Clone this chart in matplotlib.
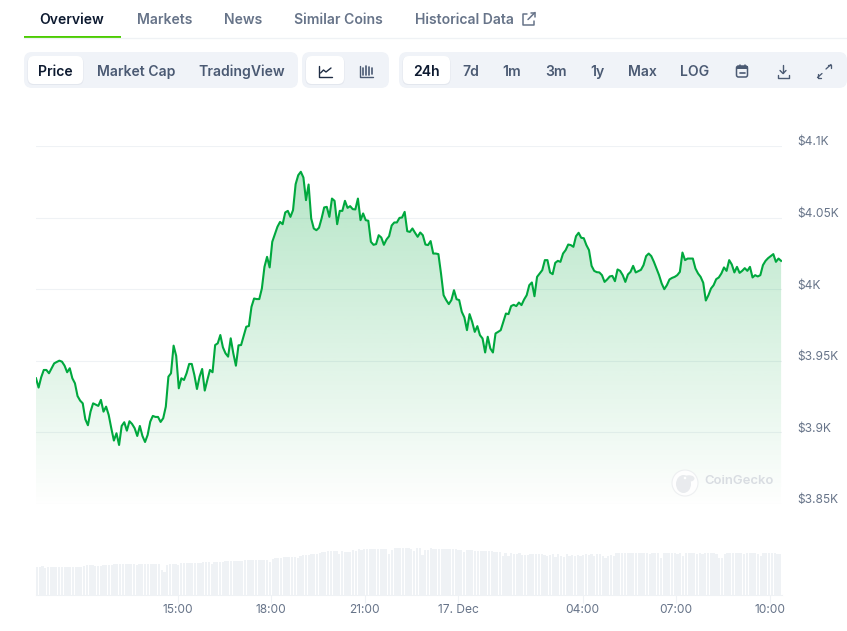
import numpy as np
import matplotlib
matplotlib.use("Agg")
import matplotlib.pyplot as plt
from matplotlib.patches import FancyBboxPatch, Circle, Ellipse, Rectangle
from matplotlib.transforms import ScaledTranslation

plt.rcParams['font.family'] = ['Inter', 'DejaVu Sans']

# ---- data ----
price = [
 3937.8,3931.3,3938.5,3943.6,3943.6,3941.3,3944.8,3948.2,3949.2,3950.1,3949.4,3946.6,3942.0,3944.8,3937.8,3934.3,3925.4,
 3922.2,3920.3,3909.2,3905.0,3914.5,3920.3,3919.4,3918.5,3922.7,3914.5,3918.0,3912.2,3902.9,3894.3,3899.4,3891.2,
 3904.5,3907.1,3901.2,3907.8,3905.9,3902.9,3897.5,3904.5,3897.5,3893.3,3898.2,3907.5,3911.5,3910.8,3910.8,3907.3,
 3909.9,3918.0,3938.9,3941.3,3960.6,3953.4,3930.8,3937.8,3936.6,3941.3,3947.8,3947.8,3940.1,3930.3,3938.9,3944.3,
 3929.2,3936.6,3943.6,3942.0,3961.0,3962.2,3968.0,3959.4,3955.2,3952.9,3965.7,3955.2,3946.6,3960.8,3961.0,3967.3,
 3973.8,3974.3,
 3987.7,3993.5,3993.1,3993.1,4000.5,4015.6,4022.6,4015.2,4033.1,4038.4,4043.6,4047.0,4045.4,4053.6,4054.7,4050.5,
 4055.2,4073.3,4079.6,4082.0,4078.0,4062.2,4073.1,4049.4,4042.4,4041.2,4042.9,4049.4,4057.1,4057.5,4050.5,4063.3,
 4061.7,4045.4,4054.7,4054.7,4061.7,4056.8,4058.0,4055.9,4055.7,4063.3,4048.2,4052.9,4048.2,4047.8,4033.1,4031.0,
 4031.5,4037.7,4036.1,4031.0,4034.7,4037.0,4044.5,4046.6,4046.6,4049.8,4050.1,4054.0,4040.5,4040.0,4042.4,4039.4,
 4036.6,4039.6,4037.7,4031.2,4030.8,4033.6,4024.9,4024.9,4024.5,
 4011.0,3995.8,3992.4,3989.6,3992.4,3999.3,3993.0,3992.4,3984.2,3980.3,3971.4,3982.6,3977.2,3970.2,3974.2,3967.9,
 3965.6,3955.8,3966.8,3958.6,3955.8,3969.1,3970.2,3971.4,3977.2,3983.0,3982.6,3988.2,3989.1,3988.2,3990.7,3988.9,
 3992.8,3995.8,4002.8,4004.7,3995.1,4008.6,4011.0,4013.3,4020.3,4020.3,4011.7,4010.5,4018.4,4019.8,4019.1,4024.9,
 4027.3,4031.2,4030.8,4029.6,4037.0,4039.4,4035.9,4035.6,4030.8,4027.3,4016.3,4012.8,4011.9,4011.7,4009.8,4005.1,
 4006.8,4008.9,4009.3,4005.6,4013.8,4012.8,4009.8,4005.1,4010.3,4012.1,4016.3,4011.7,4012.6,4013.5,4016.8,4023.1,
 4024.9,4023.1,4019.1,4014.5,4009.8,4004.0,4000.0,4002.8,4006.8,4007.9,4008.6,4009.8,4012.1,4025.6,4020.3,4021.4,
 4021.4,4021.4,4014.5,4011.0,4008.6,4004.5,3992.1,3995.8,4000.5,4002.8,4007.0,4008.2,4011.0,4015.2,4012.8,4020.3,
 4017.3,4011.7,4015.6,4011.4,4012.8,4014.7,4012.8,4015.6,4008.2,4009.8,4008.9,4009.8,4016.8,4019.8,4021.7,4023.1,
 4024.5,4019.1,4021.4,4019.8,
]
volume = [
 2.83,2.83,2.88,2.70,2.85,2.80,2.85,2.85,2.85,2.85,2.85,2.85,2.85,2.85,2.85,2.85,2.80,2.87,2.98,2.98,
 2.98,2.90,2.90,2.90,3.00,3.00,3.00,3.00,3.10,3.12,3.12,3.12,3.12,3.12,3.10,3.10,3.05,3.10,3.10,3.10,
 3.10,3.10,3.10,3.10,3.15,2.55,2.35,3.05,3.15,3.15,3.15,3.05,3.20,3.25,3.25,3.25,3.25,3.25,3.25,3.25,
 3.30,3.30,3.30,3.15,3.30,3.33,3.33,3.33,3.38,3.38,3.40,3.40,3.38,3.38,3.43,3.50,3.53,3.53,3.53,3.48,
 3.48,3.53,3.55,3.55,3.33,3.60,3.67,3.73,3.73,3.83,3.83,3.83,3.83,3.80,3.70,3.93,4.00,4.03,4.03,4.10,
 4.10,4.13,4.17,4.27,4.35,4.43,4.43,4.43,4.43,4.10,4.43,4.33,4.33,4.33,4.50,4.43,4.60,4.53,4.60,4.63,
 4.63,4.63,4.63,4.63,4.63,4.63,4.63,4.10,4.50,4.73,4.73,4.73,4.73,4.73,4.73,4.60,4.37,4.73,4.73,4.03,
 4.53,4.53,4.70,4.63,4.63,4.57,4.57,4.57,4.57,4.57,4.57,4.63,4.47,4.53,4.27,4.50,4.53,4.50,4.43,4.40,
 4.40,4.40,4.40,4.40,4.43,4.30,4.30,4.30,3.87,4.20,3.93,4.20,4.10,4.10,4.20,4.03,4.03,4.00,4.10,4.10,
 4.10,4.10,4.10,3.97,3.93,4.00,4.10,3.83,4.10,3.90,3.77,4.10,3.93,4.00,3.93,3.97,3.93,4.00,4.10,4.00,
 4.10,3.93,4.10,4.10,3.93,3.67,3.93,4.00,3.93,4.17,4.20,4.20,4.20,4.20,4.20,4.20,4.20,4.20,4.20,4.20,
 4.20,4.13,4.20,4.20,4.20,3.67,4.20,4.20,4.20,4.20,4.20,4.13,4.20,3.93,4.20,4.20,4.20,4.20,4.13,4.20,
 4.10,4.20,4.20,4.20,4.20,4.13,3.73,3.73,4.13,4.20,4.20,4.20,4.20,4.20,4.20,4.10,4.20,4.20,4.20,4.20,
 4.13,3.93,4.20,4.20,4.20,4.20,4.20,4.13,4.13,
]
y_ticks = [3850, 3900, 3950, 4000, 4050, 4100]
y_labels = ['$3.85K', '$3.9K', '$3.95K', '$4K', '$4.05K', '$4.1K']
x_ticks = [15, 18, 21, 24, 28, 31, 34]
x_labels = ['15:00', '18:00', '21:00', '17. Dec', '04:00', '07:00', '10:00']
tabs = ['Overview', 'Markets', 'News', 'Similar Coins', 'Historical Data']
views = ['Price', 'Market Cap', 'TradingView']
ranges = ['24h', '7d', '1m', '3m', '1y', 'Max', 'LOG']
t_start, t_end = 10.45, 34.37

W, H = 847, 631
fig = plt.figure(figsize=(W / 100, H / 100), dpi=100, facecolor='white')

def box(l, t, r, b):
    return [l / W, 1 - b / H, (r - l) / W, (b - t) / H]

PX = 31.15
GRID = '#eff2f5'
TXT = '#677489'

# ---- price panel ----
ax = fig.add_axes(box(36, 146, 782, 504))
ax.set_xlim(t_start, t_start + 746 / PX)
ax.set_ylim(3850, 4100)
hours = np.linspace(t_start, t_end, len(price))
ax.set_axisbelow(True)
for s in ax.spines.values():
    s.set_visible(False)
ax.set_xticks([])
ax.yaxis.tick_right()
ax.set_yticks(y_ticks, y_labels)
ax.tick_params(axis='y', length=0, pad=10.8, labelsize=8.64, labelcolor=TXT)
shift = ScaledTranslation(0, 5 / 100, fig.dpi_scale_trans)
for lab in ax.get_yticklabels():
    lab.set_transform(lab.get_transform() + shift)
ax.grid(axis='y', color=GRID, lw=0.8, zorder=0)

grad = np.zeros((256, 1, 4))
grad[..., 0] = 0 / 255
grad[..., 1] = 168 / 255
grad[..., 2] = 62 / 255
grad[..., 3] = np.linspace(0.29, 0.0, 256)[:, None] ** 1.0
poly = ax.fill_between(hours, price, 3850, color='none', lw=0)
im = ax.imshow(grad, extent=[t_start, t_end, 3845, 4085], origin='upper',
               aspect='auto', zorder=1)
path = poly.get_paths()[0]
im.set_clip_path(path, transform=ax.transData)
ax.set_xlim(t_start, t_start + 746 / PX)
ax.set_ylim(3850, 4100)
ax.plot(hours, price, color='#00a83e', lw=1.5, zorder=3, solid_joinstyle='round')

# ---- volume panel ----
vx = fig.add_axes(box(36, 540, 782, 595))
vx.set_xlim(t_start, t_start + 746 / PX)
vx.set_ylim(0, 5.5)
vhours = np.linspace(t_start + 0.03, t_end - 0.03, len(volume))
vx.bar(vhours, volume, width=0.072, color='#eff2f5', lw=0)
for s in ['top', 'left', 'right']:
    vx.spines[s].set_visible(False)
vx.spines['bottom'].set_color(GRID)
vx.spines['bottom'].set_linewidth(0.8)
vx.set_yticks([])
vx.set_xticks(x_ticks, x_labels)
vx.tick_params(axis='x', length=5.5, width=0.8, color=GRID, pad=1.0,
               labelsize=8.64, labelcolor=TXT)

# ---- page chrome ----
ui = fig.add_axes([0, 0, 1, 1], zorder=5)
ui.set_xlim(0, W)
ui.set_ylim(H, 0)
ui.axis('off')
ui.patch.set_alpha(0)

TAB = '#677489'
DARK = '#0d1a30'
BTN = '#4b5a73'
BG = '#f0f3f8'

tab_x = [39.5, 137, 224, 294, 415]
for i, (name, x) in enumerate(zip(tabs, tab_x)):
    ui.text(x, 19.8, name, ha='left', va='center', fontsize=10.08, fontweight='semibold',
            color=DARK if i == 0 else TAB)
ui.plot([24, 847], [37.5, 37.5], color=GRID, lw=0.9)
ui.add_patch(Rectangle((24, 36), 97, 2, color='#4bcc00', lw=0))


def rrect(l, t, r, b, color, rad=8, z=1):
    ui.add_patch(FancyBboxPatch((l, t), r - l, b - t,
                                boxstyle=f'round,pad=0,rounding_size={rad}',
                                fc=color, ec='none', zorder=z))


def button(l, r):
    rrect(l - 0.5, 56.5, r + 0.5, 85, '#e3e7ee', 6, 2)
    rrect(l, 56, r, 84, 'white', 6, 3)


rrect(24, 52, 298, 88, BG)
rrect(302, 52, 389, 88, BG)
rrect(399, 52, 847, 88, BG)
button(28, 83)
button(306, 344)
button(403, 450)

for name, x, c in zip(views, [55.5, 136, 241.5], [DARK, BTN, BTN]):
    ui.text(x, 71.8, name, ha='center', va='center', fontsize=10.08,
            fontweight='semibold', color=c, zorder=4)
for i, (name, x) in enumerate(zip(ranges, [426, 471, 512, 556, 597, 642.5, 695])):
    ui.text(x, 71.8, name, ha='center', va='center', fontsize=10.08,
            fontweight='semibold', color=DARK if i == 0 else BTN, zorder=4)


def pl(xs, ys, c=BTN, lw=1.0):
    ui.plot(xs, ys, color=c, lw=lw, zorder=4, solid_capstyle='round', solid_joinstyle='round')


# line-chart icon
pl([318.5, 318.5, 332], [65.5, 76.5, 76.5], '#1f2d44')
pl([320.5, 323.5, 326, 331], [73, 70, 72, 68], '#1f2d44')
# candles icon
pl([359.5, 359.5, 373], [65.5, 76.5, 76.5])
for x, a, b in [(362.5, 68, 74.5), (365.5, 65.5, 74.5), (368.5, 67, 74.5), (371.5, 68, 74)]:
    pl([x, x], [a, b], lw=1.2)
# external-link icon
pl([527, 523, 523, 534, 534], [14, 14, 25, 25, 20.5], TAB, 1.1)
pl([528, 535], [19.5, 12.5], TAB, 1.1)
pl([530.5, 535, 535], [12.5, 12.5, 17], TAB, 1.1)
# calendar icon
ui.add_patch(FancyBboxPatch((736.5, 66), 11, 11, boxstyle='round,pad=0,rounding_size=2',
                            fc='none', ec=BTN, lw=1.1, zorder=4))
ui.add_patch(Rectangle((736.5, 66), 11, 3, color=BTN, lw=0, zorder=4))
pl([739.5, 739.5], [64.5, 66.5], lw=1.1)
pl([744.5, 744.5], [64.5, 66.5], lw=1.1)
pl([739.5, 744.5], [72.5, 72.5], lw=1.2)
# download icon
pl([783, 783], [65, 73], lw=1.0)
pl([780, 783, 786], [70.5, 73.5, 70.5], lw=1.0)
pl([777.5, 777.5, 788.5, 788.5], [74.5, 77.5, 77.5, 74.5], lw=1.0)
# expand icon
pl([826, 831], [69, 64.5], lw=0.95)
pl([827.5, 831, 831], [64.5, 64.5, 68], lw=0.95)
pl([817.5, 817.5, 821], [74, 77.5, 77.5], lw=0.95)
pl([817.5, 822], [77.5, 73.5], lw=0.95)

# watermark
ui.add_patch(Circle((685, 483), 13, fc='#ffffff', ec='#eceef0', lw=0.8, alpha=0.9, zorder=2))
ui.add_patch(Ellipse((683.5, 484), 15, 18, fc='#e9ebee', ec='none', zorder=2))
ui.add_patch(Ellipse((689, 478.5), 11, 6.5, fc='#e9ebee', ec='none', zorder=2))
ui.add_patch(Circle((685, 478), 1.3, fc='white', ec='none', zorder=3))
ui.text(704, 481.5, 'CoinGecko', ha='left', va='center', fontsize=9.4,
        fontweight='semibold', color='#d9dde2', zorder=3)

fig.savefig('out.png', dpi=100, facecolor='white')
